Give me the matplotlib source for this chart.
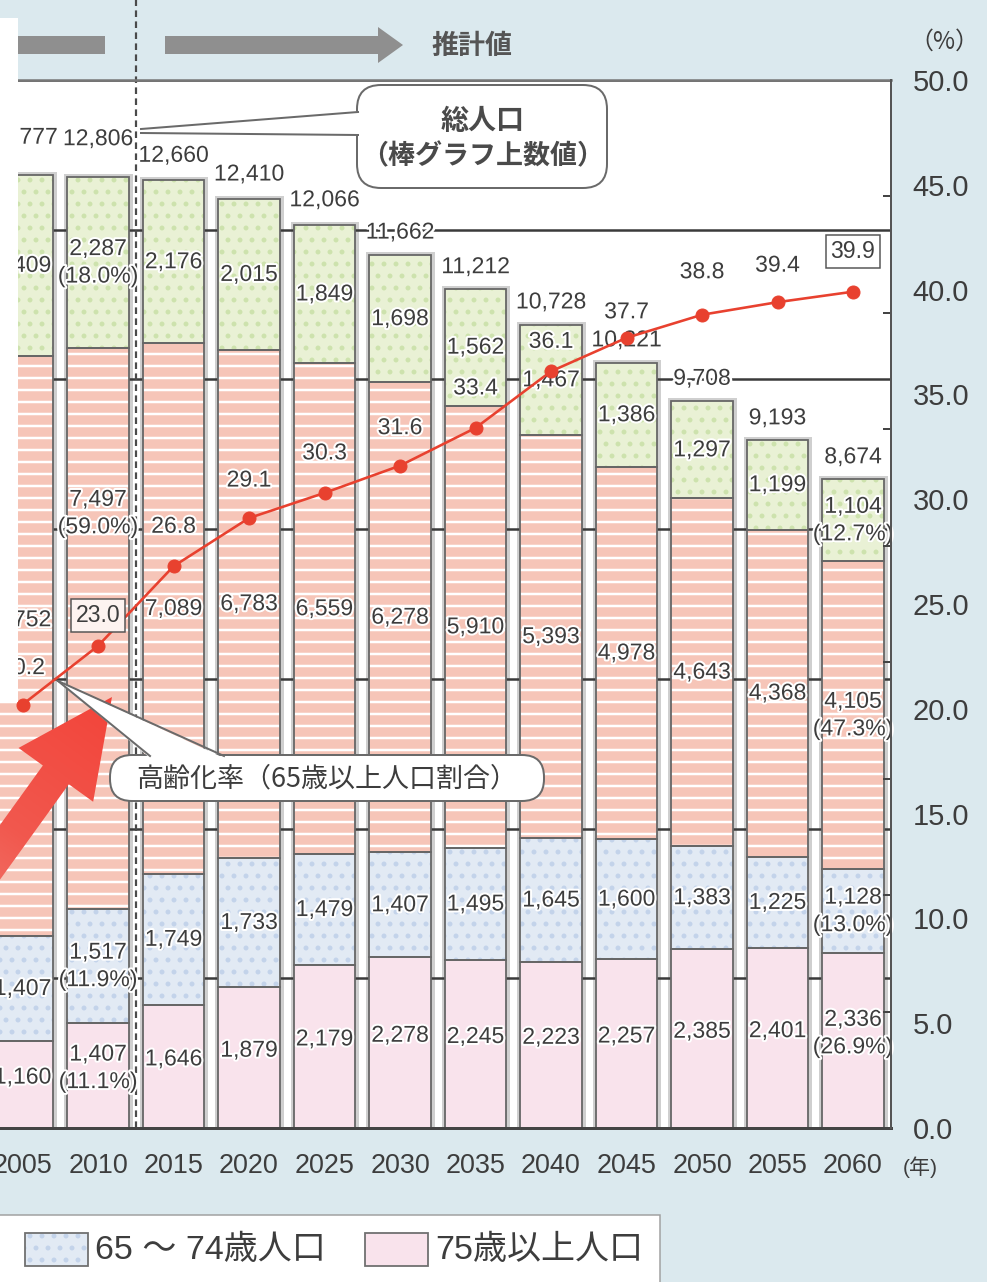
import numpy as np
import matplotlib
matplotlib.use('Agg')
import matplotlib.pyplot as plt
import matplotlib.patheffects as pe
from matplotlib.patches import Rectangle, FancyBboxPatch, Polygon
from matplotlib.colors import LinearSegmentedColormap

# population by age group (10 thousand persons)
years = ['2005', '2010', '2015', '2020', '2025', '2030',
         '2035', '2040', '2045', '2050', '2055', '2060']
pop_0_19 = [2409, 2287, 2176, 2015, 1849, 1698, 1562, 1467, 1386, 1297, 1199, 1104]
pop_20_64 = [7752, 7497, 7089, 6783, 6559, 6278, 5910, 5393, 4978, 4643, 4368, 4105]
pop_65_74 = [1407, 1517, 1749, 1733, 1479, 1407, 1495, 1645, 1600, 1383, 1225, 1128]
pop_75_over = [1160, 1407, 1646, 1879, 2179, 2278, 2245, 2223, 2257, 2385, 2401, 2336]
pop_total = [12777, 12806, 12660, 12410, 12066, 11662, 11212, 10728, 10221, 9708, 9193, 8674]
# aging rate (share of 65+, %)
aging_rate = [20.2, 23.0, 26.8, 29.1, 30.3, 31.6, 33.4, 36.1, 37.7, 38.8, 39.4, 39.9]

W, H, DPI = 987, 1282, 72
TXT = '#3d3d3d'
BG = '#dbe9ee'

plt.rcParams['font.family'] = ['Liberation Sans', 'Noto Sans CJK JP', 'DejaVu Sans']
plt.rcParams['hatch.linewidth'] = 2.5

fig = plt.figure(figsize=(W / DPI, H / DPI), dpi=DPI, facecolor=BG)

# frame in pixels: bar i sits at 22.5 + 75.5*i, population 0..14000 spans y 1128..80
step, x0 = 75.5, 22.5
xlim = (-1.5, 11.5)
left_px = x0 + xlim[0] * step
right_px = x0 + xlim[1] * step
top_px, bot_px = 80, 1128
ax = fig.add_axes([left_px / W, 1 - bot_px / H, (right_px - left_px) / W, (bot_px - top_px) / H])
ax.set_xlim(*xlim)
ax.set_ylim(0, 14000)
ax.set_facecolor('white')

x = np.arange(len(years))
bw = 0.82
segs = [pop_75_over, pop_65_74, pop_20_64, pop_0_19]
styles = [
    ('#f9e3ec', None, None),
    ('#e2eaf4', '.', '#c3d3ea'),
    ('#f6c5b8', '-', 'white'),
    ('#e9f1d5', '.', '#cde2ad'),
]
stack_top = np.sum(segs, axis=0)

# soft rim round each column
ax.bar(x, stack_top, bw, color='none', edgecolor='#cfcfcf', lw=7, zorder=1)
for g in range(0, 14001, 2000):
    ax.axhline(g, color='#3a3a3a', lw=2.5, zorder=1.5)

bottom = np.zeros(len(x))
for vals, (fc, hatch, hc) in zip(segs, styles):
    ax.bar(x, vals, bw, bottom=bottom, color=fc, lw=0, zorder=2)
    if hatch:
        ax.bar(x, vals, bw, bottom=bottom, color='none', edgecolor=hc, hatch=hatch, lw=0, zorder=2.1)
    ax.bar(x, vals, bw, bottom=bottom, color='none', edgecolor='#666666', lw=1.8, zorder=2.2)
    bottom += np.array(vals)

# actual / projected divider
y_img_top = 14000 + top_px * 14000 / (bot_px - top_px)
ax.plot([1.5, 1.5], [0, y_img_top], color='#4a4a4a', lw=2.2, ls=(0, (3, 2)),
        clip_on=False, zorder=1.8)

halo = [pe.withStroke(linewidth=4, foreground='white')]
lab = dict(ha='center', va='center', fontsize=23, color=TXT, zorder=6,
           path_effects=halo, linespacing=1.25)

share_cols = {1, 11}
mid_y = {0: 6790, 1: 8215}
seg_shift = [100, 0, 0, 0]
bottom = np.zeros(len(x))
for k, vals in enumerate(segs):
    for i, v in enumerate(vals):
        s = f'{v:,}'
        if i in share_cols:
            s += f'\n({v / stack_top[i] * 100:.1f}%)'
        yc = bottom[i] + v / 2 + seg_shift[k]
        if k == 2 and i in mid_y:
            yc = mid_y[i]
        ax.text(i, yc, s, **lab)
    bottom += np.array(vals)

tot_off = [38, 38, 25, 25, 25, 23, 22, 23, 23, 23, 22, 22]
for i, t in enumerate(pop_total):
    ax.annotate(f'{t:,}', (i, stack_top[i]), xytext=(0, tot_off[i]), textcoords='offset points',
                ha='center', va='center', fontsize=23, color=TXT,
                path_effects=[pe.withStroke(linewidth=5, foreground='white')], zorder=6)

ax.set_xticks(x, years)
ax.tick_params(axis='x', length=0, pad=25, labelsize=27, labelcolor=TXT)
ax.tick_params(axis='y', left=False, labelleft=False)
for sp in ['left', 'right']:
    ax.spines[sp].set_visible(False)
ax.spines['top'].set_color('#777777')
ax.spines['top'].set_linewidth(2.5)
ax.spines['bottom'].set_color('#444444')
ax.spines['bottom'].set_linewidth(3)

# aging rate on the right axis
ax2 = ax.twinx()
ax2.set_ylim(0, 50)
ticks = np.arange(0, 50.1, 5)
ax2.set_yticks(ticks, [f'{v:.1f}' for v in ticks])
ax2.set_yticks(np.arange(1, 9) * 50 / 9, minor=True)
ax2.tick_params(axis='y', which='major', length=0, pad=22, labelsize=29, labelcolor=TXT)
ax2.tick_params(axis='y', which='minor', direction='in', length=8, width=2, color='#444444')
for sp in ['left', 'top', 'bottom']:
    ax2.spines[sp].set_visible(False)
ax2.spines['right'].set_color('#555555')
ax2.spines['right'].set_linewidth(2)

ax2.plot(x, aging_rate, color='#e8412f', lw=2.6, marker='o', ms=13, zorder=5)
rate_off = [37, 30, 40, 38, 40, 38, 40, 30, 26, 43, 37, 40]
boxed = {1, 11}
for i, r in enumerate(aging_rate):
    kw = dict(ha='center', va='center', fontsize=23, color=TXT, zorder=7)
    if i in boxed:
        kw['bbox'] = dict(boxstyle='square,pad=0.22', fc='#fdf3f0' if i == 1 else 'white',
                          ec='#555555', lw=1.5)
    else:
        kw['path_effects'] = halo
    ax2.annotate(f'{r:.1f}', (i, r), xytext=(0, rate_off[i]), textcoords='offset points', **kw)

# decorations in pixel space
ov = fig.add_axes([0, 0, 1, 1], zorder=10)
ov.axis('off')

grey = '#8f8f8f'
ov.add_patch(Rectangle((18, 36), 87, 18, fc=grey, ec='none'))
ov.add_patch(Polygon([(165, 36), (378, 36), (378, 27), (403, 45), (378, 63), (378, 54), (165, 54)],
                     closed=True, fc=grey, ec='none'))
ov.text(472, 46, '推計値', ha='center', va='center', fontsize=27, color='#555555',
        weight='bold', family='Noto Sans CJK JP')
ov.text(944, 42, '（%）', ha='center', va='center', fontsize=24, color=TXT, family='Noto Sans CJK JP')
ov.text(920, 1167, '(年)', ha='center', va='center', fontsize=21, color=TXT)

# total population callout
ov.add_patch(FancyBboxPatch((357, 85), 250, 103, boxstyle='round,pad=0,rounding_size=24',
                            fc='white', ec='#6a6a6a', lw=2))
ov.add_patch(Polygon([(141, 131), (362, 111), (362, 135)], closed=True, fc='white', ec='none'))
ov.plot([141, 358], [129, 112], color='#6a6a6a', lw=2)
ov.plot([141, 358], [133, 135], color='#6a6a6a', lw=2)
ov.text(483, 121, '総人口', ha='center', va='center', fontsize=28, color='#4a4a4a',
        weight='bold', family='Noto Sans CJK JP')
ov.text(483, 156, '（棒グラフ上数値）', ha='center', va='center', fontsize=27, color='#4a4a4a',
        weight='bold', family='Noto Sans CJK JP')

# aging rate callout
ov.add_patch(FancyBboxPatch((110, 755), 434, 46, boxstyle='round,pad=0,rounding_size=22',
                            fc='white', ec='#6a6a6a', lw=2))
ov.add_patch(Polygon([(58, 681), (150, 758), (224, 758)], closed=True, fc='white', ec='none'))
ov.plot([58, 150], [681, 756], color='#6a6a6a', lw=2)
ov.plot([58, 224], [681, 756], color='#6a6a6a', lw=2)
ov.text(327, 779, '高齢化率（65歳以上人口割合）', ha='center', va='center', fontsize=27,
        color=TXT, family=['Noto Sans CJK JP'])

# red pointer arrow with a soft gradient
tip = np.array([112.0, 697.0])
d = np.array([132.0, -183.0])
d /= np.linalg.norm(d)
n = np.array([-d[1], d[0]])
head_len, head_hw, shaft_hw, length = 96, 46, 16, 330
base = tip - head_len * d
tail = tip - length * d
pts = [tip, base + head_hw * n, base + shaft_hw * n, tail + shaft_hw * n,
       tail - shaft_hw * n, base - shaft_hw * n, base - head_hw * n]
arrow = Polygon(pts, closed=True, fc='none', ec='none')
ov.add_patch(arrow)
xs = np.linspace(-120, 180, 300)
ys = np.linspace(640, 1000, 360)
X, Y = np.meshgrid(xs, ys)
proj = ((X - tail[0]) * d[0] + (Y - tail[1]) * d[1]) / length
cmap = LinearSegmentedColormap.from_list('arrow', ['#f28a80', '#f1584e', '#f3443a'])
im = ov.imshow(np.clip(proj, 0, 1), cmap=cmap, vmin=0, vmax=1, origin='upper',
               extent=(xs[0], xs[-1], ys[-1], ys[0]), interpolation='bilinear')
im.set_clip_path(arrow)

# white cover on the left edge
ov.add_patch(Rectangle((0, 18), 18, 684, fc='white', ec='none'))

# legend
ov.add_patch(Rectangle((-5, 1215), 665, 80, fc='white', ec='#a0a0a0', lw=1.5))
for (px, label, (fc, hatch, hc)) in [(25, '65 ～ 74歳人口', styles[1]), (365, '75歳以上人口', styles[0])]:
    ov.add_patch(Rectangle((px, 1233), 63, 33, fc=fc, ec='none'))
    if hatch:
        ov.add_patch(Rectangle((px, 1233), 63, 33, fc='none', ec=hc, hatch=hatch, lw=0))
    ov.add_patch(Rectangle((px, 1233), 63, 33, fc='none', ec='#707070', lw=1.8))
    ov.text(px + 70, 1250, label, ha='left', va='center', fontsize=34, color=TXT)

ov.set_aspect('auto')
ov.set_xlim(0, W)
ov.set_ylim(H, 0)

fig.savefig('out.png', dpi=DPI, facecolor=BG)
